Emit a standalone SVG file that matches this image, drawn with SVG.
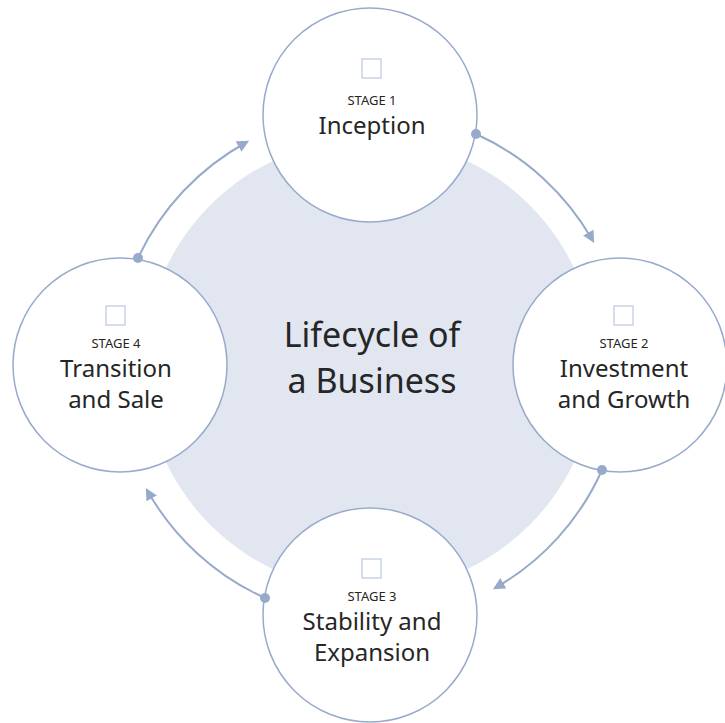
<svg xmlns="http://www.w3.org/2000/svg" width="725" height="723" viewBox="0 0 725 723">
  <style>
    .hub { fill: #e1e6f1; }
    .stage { fill: #ffffff; stroke: #98aacb; stroke-width: 1.5; }
    .icon { fill: none; stroke: #c9d3e8; stroke-width: 1.5; }
    .flow { fill: none; stroke: #98aacb; stroke-width: 2; }
    .dot { fill: #98aacb; }
    .lbl { font-family: "Source Sans Pro", "Noto Sans", "Open Sans", sans-serif; fill: #262626; text-anchor: middle; }
    .small { font-size: 13px; }
    .big { font-size: 24px; }
    .title { font-size: 34px; }
  </style>
  <defs>
    <marker id="head" viewBox="0 0 10 10" refX="8" refY="5" markerWidth="6" markerHeight="6" orient="auto" markerUnits="strokeWidth">
      <path d="M0,0 L10,5 L0,10 z" fill="#98aacb"/>
    </marker>
  </defs>

  <g id="hub">
    <circle class="hub" cx="370" cy="365" r="226"/>
    <text class="lbl title" x="372" y="347">Lifecycle of</text>
    <text class="lbl title" x="372" y="393">a Business</text>
  </g>

  <g id="connectors">
    <path class="flow" d="M476,134 A255,255 0 0 1 593,241" marker-end="url(#head)"/>
    <path class="flow" d="M602,470 A255,255 0 0 1 495,588" marker-end="url(#head)"/>
    <path class="flow" d="M265,598 A255,255 0 0 1 147,490" marker-end="url(#head)"/>
    <path class="flow" d="M138,258 A255,255 0 0 1 247,142" marker-end="url(#head)"/>
  </g>

  <g id="stage1">
    <circle class="stage" cx="370" cy="115" r="107"/>
    <rect class="icon" x="362" y="59" width="19" height="19"/>
    <text class="lbl small" x="372" y="105">STAGE 1</text>
    <text class="lbl big" x="372" y="134">Inception</text>
  </g>

  <g id="stage2">
    <circle class="stage" cx="620" cy="365" r="107"/>
    <rect class="icon" x="614" y="306" width="19" height="19"/>
    <text class="lbl small" x="624" y="348">STAGE 2</text>
    <text class="lbl big" x="624" y="377">Investment</text>
    <text class="lbl big" x="624" y="408">and Growth</text>
  </g>

  <g id="stage3">
    <circle class="stage" cx="370" cy="615" r="107"/>
    <rect class="icon" x="362" y="559" width="19" height="19"/>
    <text class="lbl small" x="372" y="601">STAGE 3</text>
    <text class="lbl big" x="372" y="630">Stability and</text>
    <text class="lbl big" x="372" y="661">Expansion</text>
  </g>

  <g id="stage4">
    <circle class="stage" cx="120" cy="365" r="107"/>
    <rect class="icon" x="106" y="306" width="19" height="19"/>
    <text class="lbl small" x="116" y="348">STAGE 4</text>
    <text class="lbl big" x="116" y="377">Transition</text>
    <text class="lbl big" x="116" y="408">and Sale</text>
  </g>

  <g id="dots">
    <circle class="dot" cx="476" cy="134" r="5"/>
    <circle class="dot" cx="602" cy="470" r="5"/>
    <circle class="dot" cx="265" cy="598" r="5"/>
    <circle class="dot" cx="138" cy="258" r="5"/>
  </g>
</svg>
